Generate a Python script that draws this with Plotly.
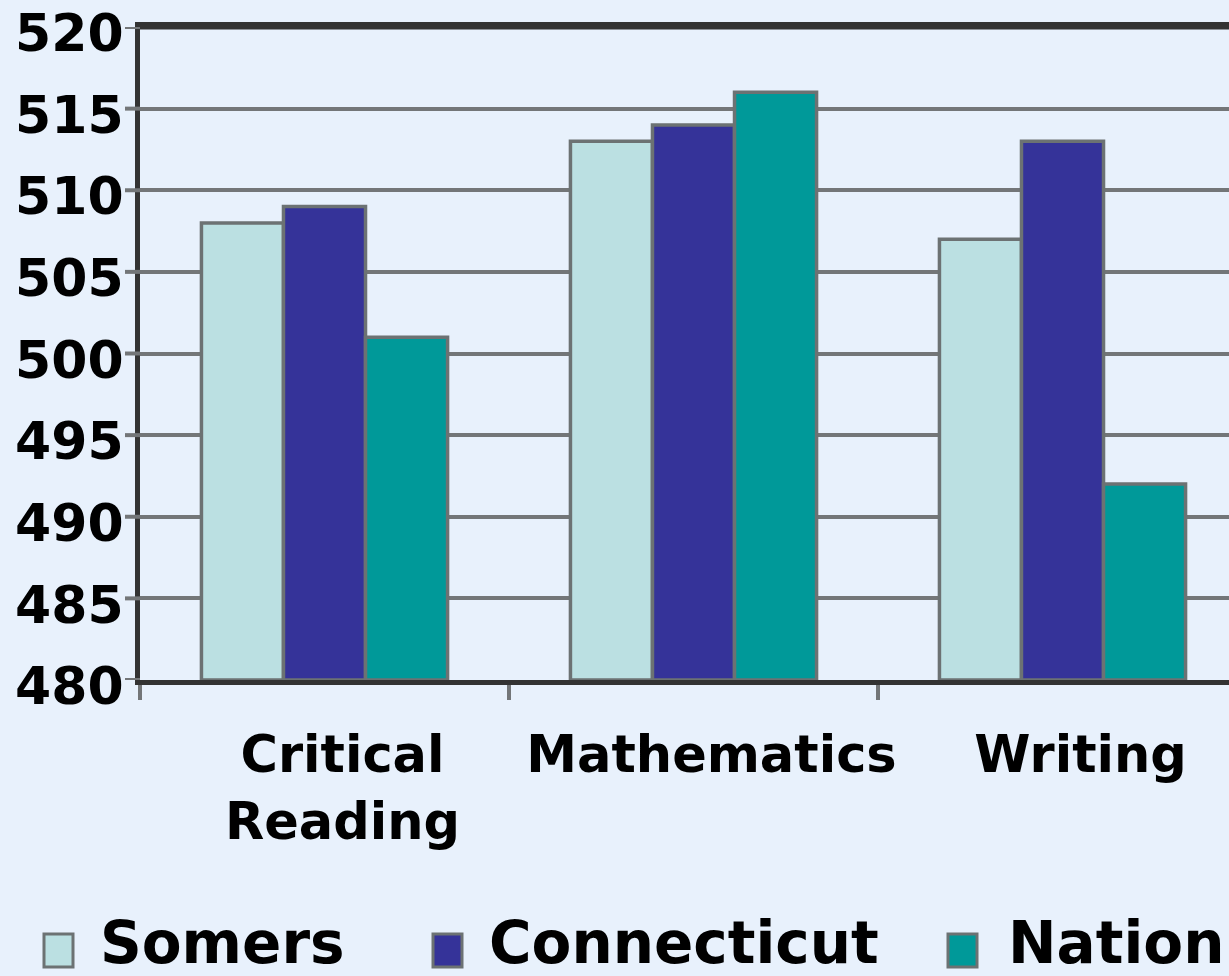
import plotly.graph_objects as go

categories = ["Critical<br>Reading", "Mathematics", "Writing"]
series_names = ["Somers", "Connecticut", "Nation"]
somers = [508, 513, 507]
connecticut = [509, 514, 513]
nation = [501, 516, 492]
y_ticks = [480, 485, 490, 495, 500, 505, 510, 515, 520]

colors = ["#bbe0e2", "#353399", "#009999"]
values = [somers, connecticut, nation]

W, H = 1229, 976
L, T, B = 140, 27, 296
PW, PH = W - L, H - T - B
font_main = dict(family="DejaVu Sans", size=52, color="black", weight="bold")
font_x = dict(family="DejaVu Sans", size=51, color="black", weight="bold")
GRID = "#737678"

fig = go.Figure()
for name, vals, col in zip(series_names, values, colors):
    fig.add_trace(go.Bar(
        x=categories, y=[v - 480 for v in vals], base=480, name=name,
        marker=dict(color=col, line=dict(color="#6c7273", width=3.5)),
        showlegend=False,
    ))

fig.update_layout(
    width=W, height=H,
    margin=dict(l=L, r=0, t=T, b=B, pad=0, autoexpand=False),
    paper_bgcolor="#e8f1fc", plot_bgcolor="rgba(0,0,0,0)",
    barmode="group", bargap=0.333, bargroupgap=0,
    font=font_main,
)
fig.update_xaxes(
    range=[-0.5, -0.5 + PW / 369.0], type="category", automargin=False,
    showline=True, linecolor="#333333", linewidth=5, mirror=True,
    showgrid=False, tickson="boundaries", ticks="outside", ticklen=15,
    tickwidth=4, tickcolor=GRID, tickfont=font_x, tickangle=0,
    ticklabelstandoff=26, ticklabelshift=18,
)
fig.update_yaxes(
    range=[480, 520], tickvals=y_ticks, ticktext=[str(v) for v in y_ticks],
    automargin=False,
    showline=True, linecolor="#333333", linewidth=5,
    showgrid=True, gridcolor=GRID, gridwidth=4,
    ticks="outside", ticklen=1, tickwidth=1, tickcolor="rgba(0,0,0,0)",
    tickfont=font_main, ticklabeloverflow="allow", ticklabelshift=6,
    zeroline=False,
)

# outside tick marks on the value axis
for v in y_ticks:
    fig.add_shape(type="line", xref="paper", yref="y",
                  x0=-15 / PW, x1=0, y0=v, y1=v,
                  line=dict(color=GRID, width=4))
# darker top border line
fig.add_shape(type="line", xref="paper", yref="paper", x0=0, x1=1, y0=1, y1=1,
              line=dict(color="#333333", width=5))

# legend drawn manually
leg_font = dict(family="DejaVu Sans", size=58, color="black", weight="bold")
leg_items = [(44, 98), (433, 487), (948, 1006)]
for (sx, tx), name, col in zip(leg_items, series_names, colors):
    fig.add_shape(type="rect", xref="paper", yref="paper",
                  x0=(sx - L) / PW, x1=(sx + 29 - L) / PW,
                  y0=(H - B - 967) / PH, y1=(H - B - 934) / PH,
                  fillcolor=col, line=dict(color="#6c7273", width=3))
    fig.add_annotation(text=name, xref="paper", yref="paper",
                       x=(tx - L) / PW, y=(H - B - 943) / PH,
                       xanchor="left", yanchor="middle", showarrow=False,
                       font=leg_font)

fig.write_html("out.html", config={"displayModeBar": False},
               post_script="document.body.style.margin='0px';")
